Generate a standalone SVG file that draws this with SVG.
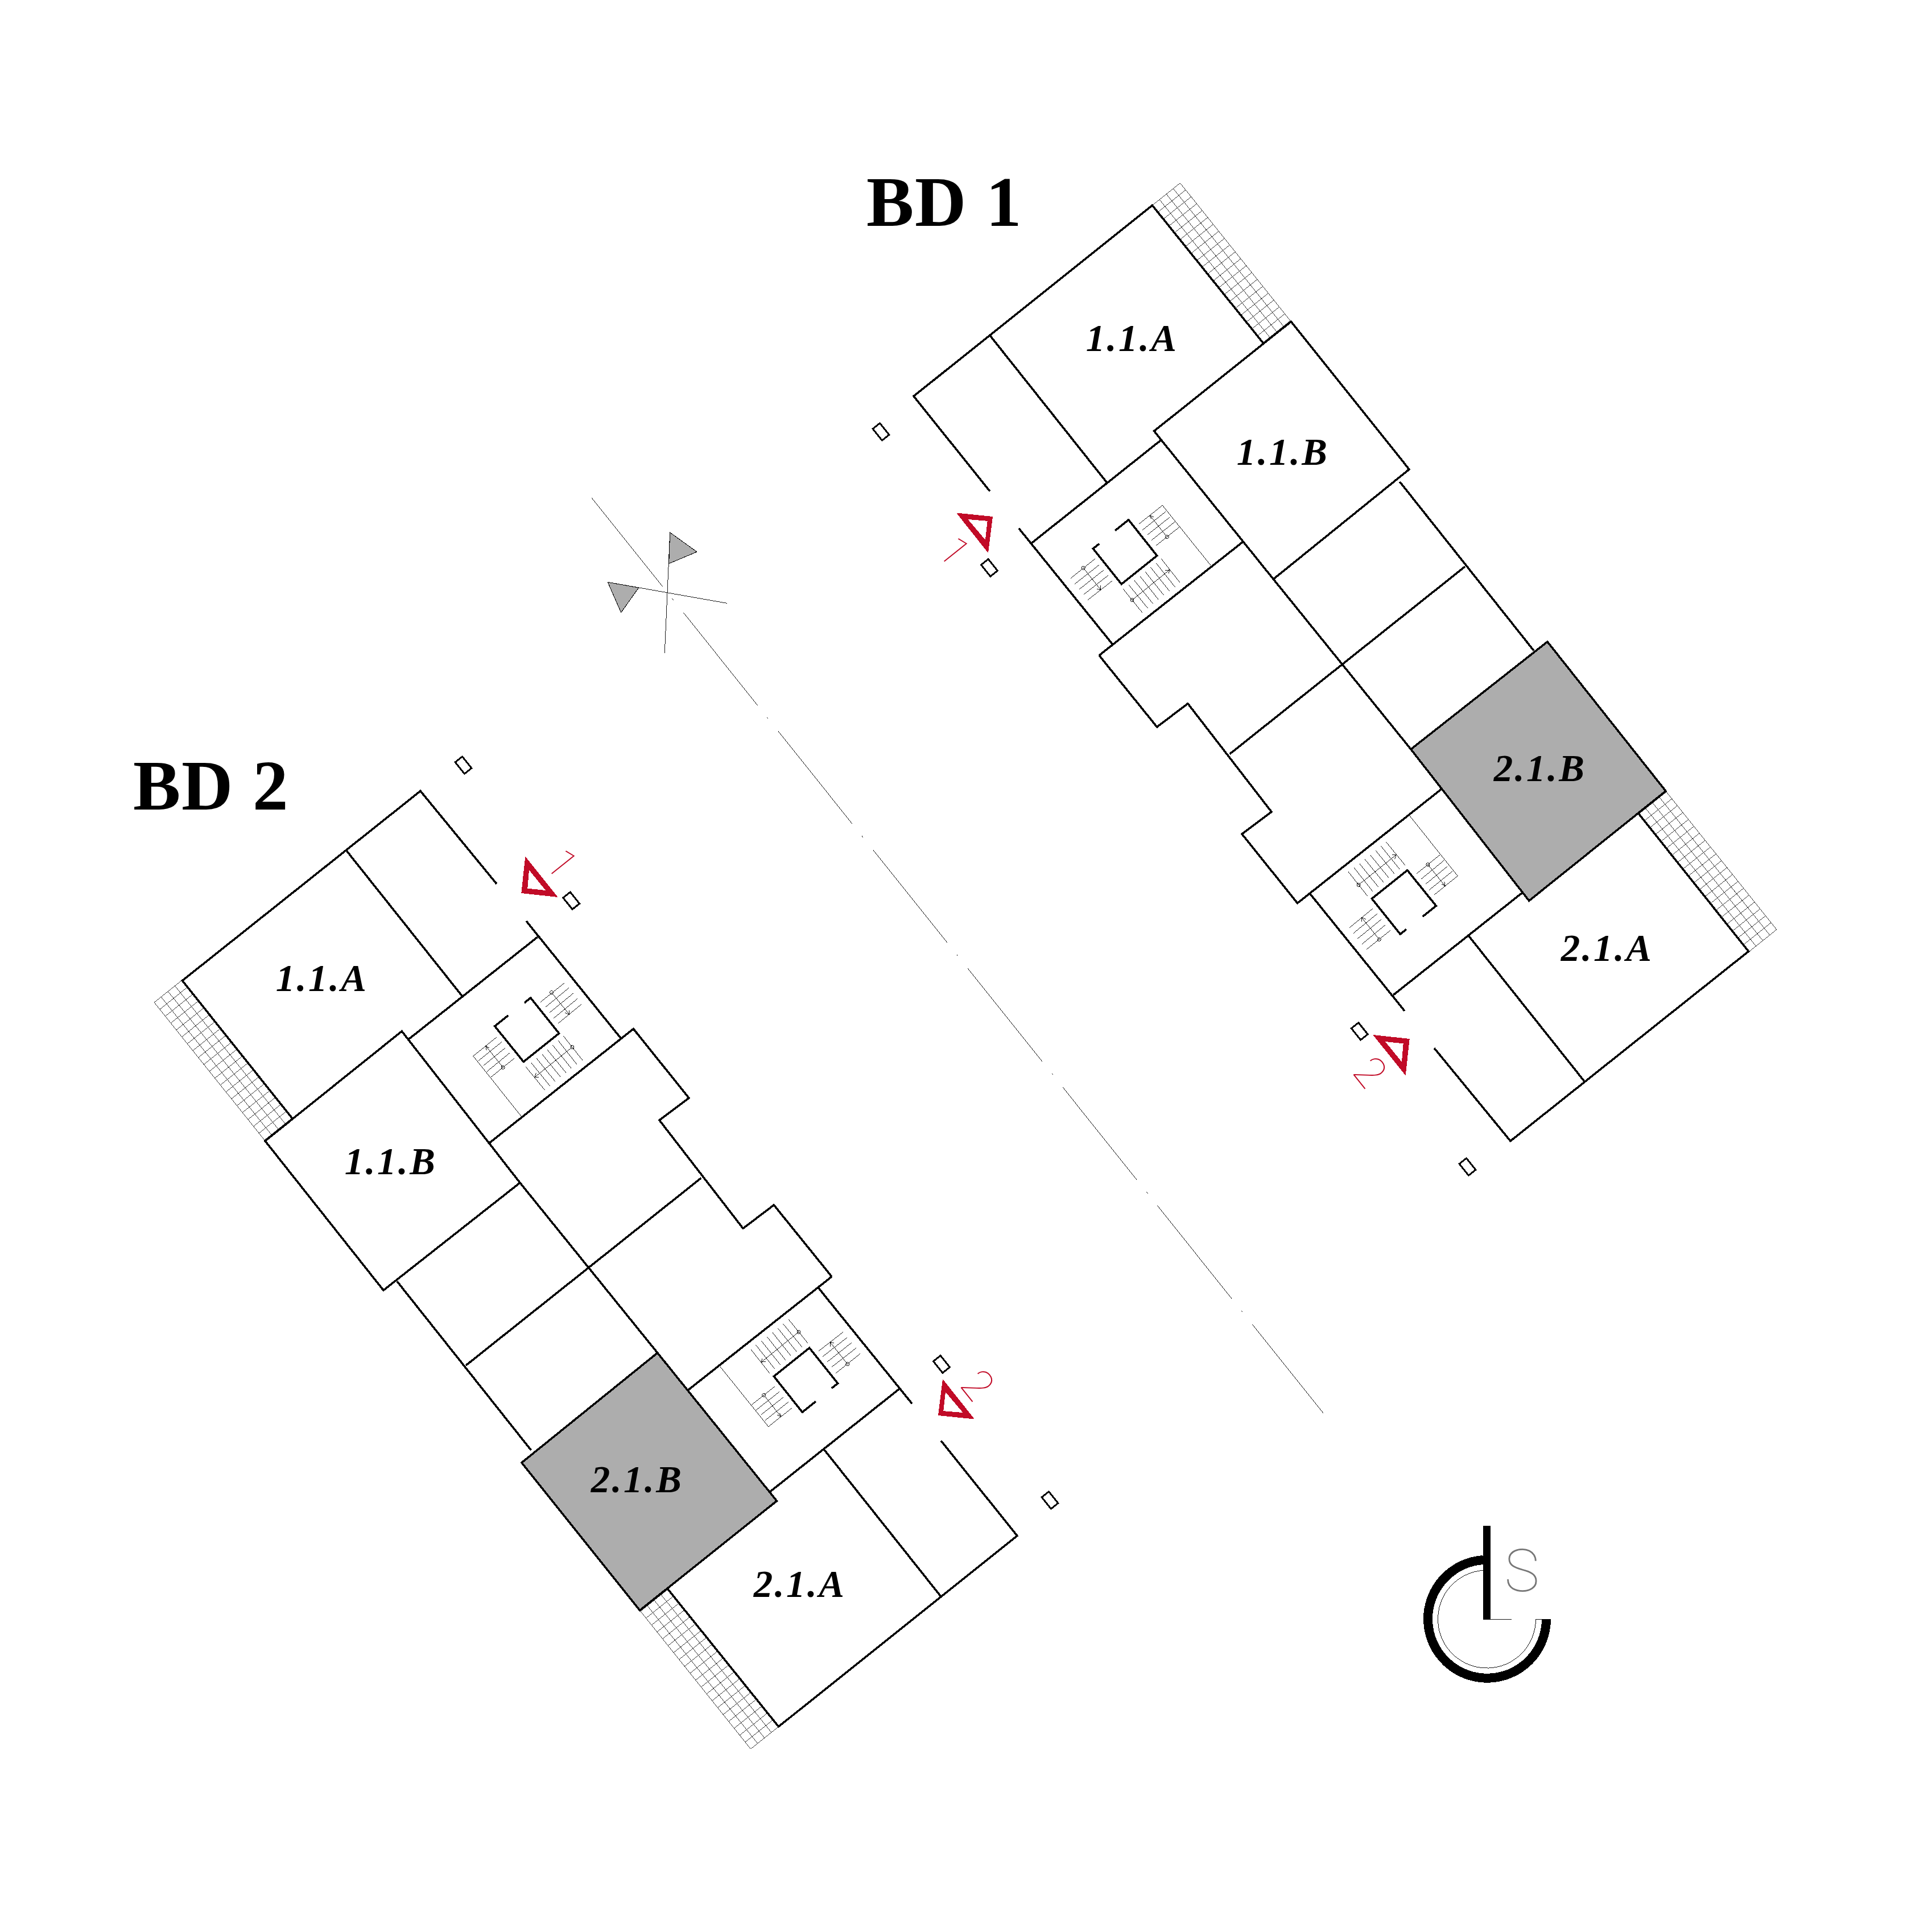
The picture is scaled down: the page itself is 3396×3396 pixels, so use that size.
<svg xmlns="http://www.w3.org/2000/svg" xmlns:xlink="http://www.w3.org/1999/xlink" width="3396" height="3396" viewBox="0 0 3396 3396" shape-rendering="crispEdges">
<style>
.bg{fill:#fff}
.wall{fill:none;stroke:#000;stroke-width:3.6;stroke-linejoin:miter}
.thin{fill:none;stroke:#000;stroke-width:.9}
.hatch{fill:#fff;stroke:#222;stroke-width:.9}
.pole{fill:#fff;stroke:#000;stroke-width:3}
.mark{fill:#c10b27;fill-rule:evenodd}
.gray{fill:#adadad}
.flag{fill:#adadad;stroke:#000;stroke-width:1}
.title{font-family:"Liberation Serif",serif;font-weight:700;font-size:125px;letter-spacing:1.7px;fill:#000}
.unit{font-family:"Liberation Serif",serif;font-weight:700;font-style:italic;font-size:67px;letter-spacing:3.5px;text-anchor:middle;fill:#000}
.num{font-family:Roboto,sans-serif;font-weight:100;font-size:72px;text-anchor:middle;fill:#c10b27}
.two{font-size:76px}
.logoS{font-family:Roboto,sans-serif;font-weight:100;font-size:104px;text-anchor:middle;fill:#777}
</style>
<defs>
<path id="hatchStrip" class="hatch" d="M0 0H310V62H0ZM15.5 0V62M31 0V62M46.5 0V62M62 0V62M77.5 0V62M93 0V62M108.5 0V62M124 0V62M139.5 0V62M155 0V62M170.5 0V62M186 0V62M201.5 0V62M217 0V62M232.5 0V62M248 0V62M263.5 0V62M279 0V62M294.5 0V62M0 15.5H310M0 31H310M0 46.5H310"/>
<g id="stair">
<path class="wall" d="M1960 932.7L1983.7 913.7L2033.7 976.7L1971.3 1026.7L1921.3 964.3L1932.3 955.7"/>
<path class="thin" d="M2001.7 921.3L2043.3 888.3L2128.3 994M2008.3 931.7L2049.3 899M2016.7 940.3L2056 909.3M2024.3 949.3L2064.7 917.7M2031.7 959.3L2072.7 926.7"/>
<path class="thin" d="M2051.3 943.7L2021 905.7M2028.3 909L2021 905.7L2023.3 912.3"/>
<circle class="thin" cx="2051.3" cy="943.7" r="3"/>
<path class="thin" d="M2041.3 982.3L2074.3 1024.3M2032.3 990L2065.3 1031.7M2022.3 997L2055.7 1039M2013.3 1005.3L2045.7 1046.3M2004 1013L2036.3 1054M1994 1020.3L2026.7 1061.3M1984.3 1028.3L2017.7 1069.3M1974.3 1035.3L2008.3 1077.3"/>
<path class="thin" d="M1990 1054.7L2056 1001.7M2048.3 1002.7L2056 1001.7L2054 1008.3"/>
<circle class="thin" cx="1990" cy="1054.7" r="3"/>
<path class="thin" d="M1882.3 1016.3L1924.7 982.3M1889.3 1026.3L1931.7 993.3M1897.3 1035.7L1939.7 1002.3M1905.3 1044.7L1948 1011.3M1912.3 1054.3L1954.7 1021.3"/>
<path class="thin" d="M1904.3 998.3L1935 1037M1928.3 1035.3L1935 1037L1934 1029.3"/>
<circle class="thin" cx="1904.3" cy="998.3" r="3"/>
</g>
<g id="plan">
<use href="#hatchStrip" transform="matrix(.625 .7806 .7806 -.625 2026 360.5)"/>
<use href="#hatchStrip" transform="matrix(.625 .7806 .7806 -.625 2880.7 1430.7)"/>
<path class="wall" d="M1739.8 863.3L1606 696.4L2025.5 361L2220.4 603M1739.8 589.3L1945.4 848M1812.8 955L2040.3 774"/>
<path class="wall" d="M1790.8 928.6L1956 1133"/>
<path class="wall" d="M2269.4 565.3L2477 825L2238.3 1018L2028.6 757.7Z"/>
<path class="wall" d="M2238.3 1018L2480 1317"/>
<path class="wall" d="M2460.4 846.8L2696 1143.6"/>
<path class="wall" d="M2575 996L2161.5 1325.4"/>
<path class="wall" d="M2720 1128L2928 1390.5L2687.7 1583.3L2480 1317Z"/>
<path class="wall" d="M1932 1152L2184 953M1932 1152L2033.7 1277.9L2087.9 1236.7L2235 1427L2183 1466L2280.6 1587.5L2535 1386"/>
<path class="wall" d="M2303.3 1571.7L2469 1777M2449 1749L2675.7 1569.3M2581 1644.3L2785.7 1901.7M2521 1842.3L2655 2005.6L3073.5 1672.3L2880.7 1430.7"/>
<use href="#stair"/>
<use href="#stair" transform="matrix(.2188 -.9758 -.9758 -.2188 2981.9 3727.9)"/>
<rect class="pole" x="-13" y="-8" width="26" height="16" transform="translate(1548.5 759) rotate(51.3)"/>
<rect class="pole" x="-13" y="-8" width="26" height="16" transform="translate(1739 998) rotate(51.3)"/>
<rect class="pole" x="-13" y="-8" width="26" height="16" transform="translate(2389.8 1812.8) rotate(51.3)"/>
<rect class="pole" x="-13" y="-8" width="26" height="16" transform="translate(2579.5 2051) rotate(51.3)"/>
<path class="mark" d="M1681 901.5L1745 908L1737 972ZM1701.5 913L1732 949L1735.7 915.8Z"/>
<path class="mark" d="M2413.3 1819L2477.7 1826L2470.7 1890.7ZM2435 1831L2464 1866.7L2466.7 1834.3Z"/>
</g>
</defs>
<rect class="bg" width="3396" height="3396"/>
<g id="axis">
<line class="thin" x1="1040" y1="875" x2="2326" y2="2484" stroke-dasharray="209 27 3 28" stroke-dashoffset="9"/>
<path class="thin" d="M1177.7 936L1168.3 1147.7M1068.3 1023.3L1277.7 1060.3"/>
<path class="flag" d="M1177.7 936L1225 970L1175.7 990.7Z"/>
<path class="flag" d="M1068.3 1023.3L1122.7 1033L1091.7 1076.7Z"/>
</g>
<g id="bd1">
<path class="gray" d="M2720 1128L2928 1390.5L2687.7 1583.3L2480 1317Z"/>
<use href="#plan"/>
<text class="title" x="1523" y="397">BD 1</text>
<text class="unit" x="1990" y="617">1.1.A</text>
<text class="unit" x="2255" y="817">1.1.B</text>
<text class="unit" x="2707" y="1373">2.1.B</text>
<text class="unit" x="2825" y="1689">2.1.A</text>
<text class="num" transform="translate(1658 985) rotate(51.3)">1</text>
<text class="num two" transform="translate(2388 1901) rotate(51.3)">2</text>
</g>
<g id="bd2">
<path class="gray" d="M1124.6 2830.7L917 2571L1155.7 2378L1365.4 2638.3Z"/>
<use href="#plan" transform="matrix(-1 0 0 -1 3394 3396)"/>
<text class="title" x="234" y="1423">BD 2</text>
<text class="unit" x="566" y="1742">1.1.A</text>
<text class="unit" x="687" y="2064">1.1.B</text>
<text class="unit" x="1120" y="2623">2.1.B</text>
<text class="unit" x="1406" y="2807">2.1.A</text>
<text class="num" transform="translate(968 1534) rotate(51.3)">1</text>
<text class="num two" transform="translate(1698 2451) rotate(51.3)">2</text>
</g>
<g id="logo">
<path fill="none" stroke="#000" stroke-width="16" d="M2607 2742A104 104 0 1 0 2718 2846.3"/>
<path class="thin" d="M2607 2760.3A86 86 0 1 0 2699.5 2846.3H2710M2620 2846.3H2657"/>
<rect x="2607" y="2682" width="13" height="164.5" fill="#000"/>
<text class="logoS" x="2675" y="2797">S</text>
</g>
</svg>
